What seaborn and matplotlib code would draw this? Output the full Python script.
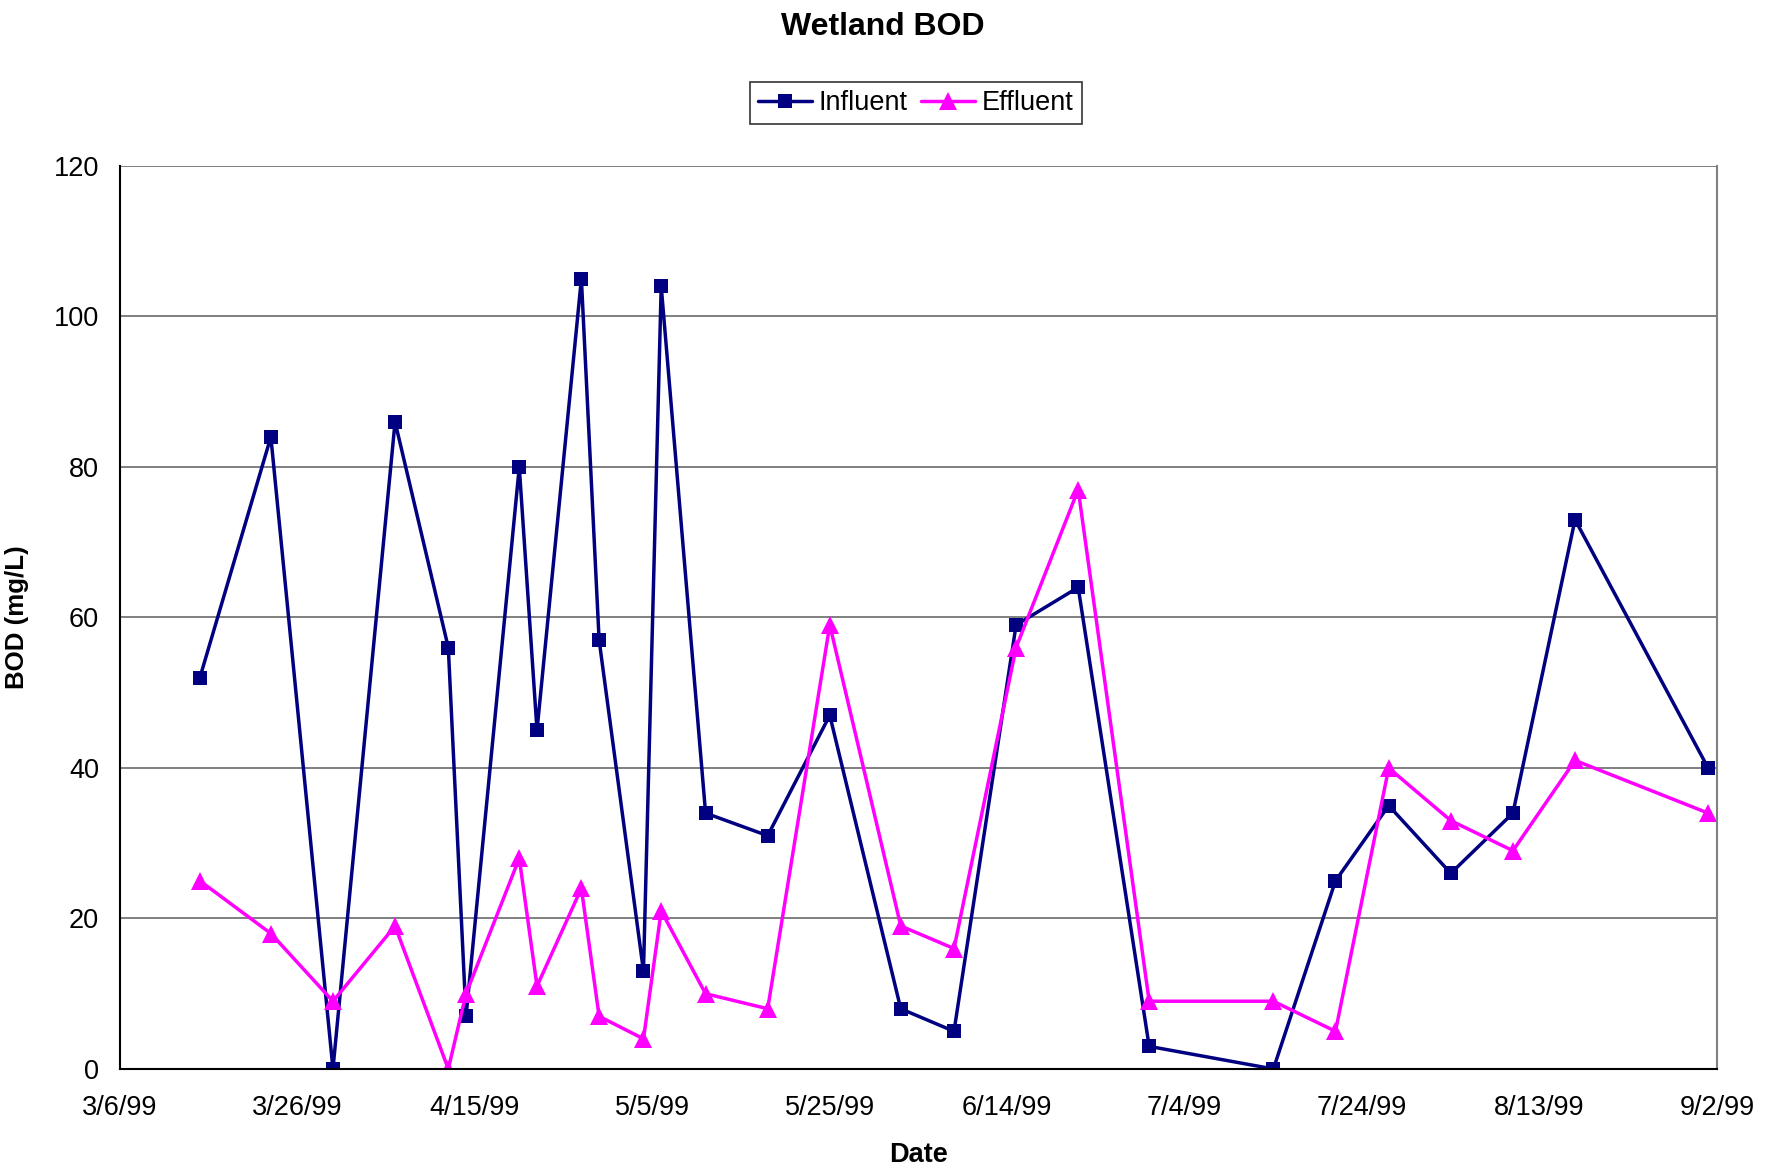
import numpy as np
import matplotlib
matplotlib.use('Agg')
import matplotlib.pyplot as plt
import pandas as pd
import seaborn as sns

# sampling dates (1999)
dates = ['1999-03-15', '1999-03-23', '1999-03-30', '1999-04-06', '1999-04-12', '1999-04-14',
         '1999-04-20', '1999-04-22', '1999-04-27', '1999-04-29', '1999-05-04', '1999-05-06',
         '1999-05-11', '1999-05-18', '1999-05-25', '1999-06-02', '1999-06-08', '1999-06-15',
         '1999-06-22', '1999-06-30', '1999-07-14', '1999-07-21', '1999-07-27', '1999-08-03',
         '1999-08-10', '1999-08-17', '1999-09-01']
influent = [52, 84, 0, 86, 56, 7, 80, 45, 105, 57, 13, 104, 34, 31, 47, 8, 5, 59, 64, 3, 0, 25, 35, 26, 34, 73, 40]
effluent = [25, 18, 9, 19, 0, 10, 28, 11, 24, 7, 4, 21, 10, 8, 59, 19, 16, 56, 77, 9, 9, 5, 40, 33, 29, 41, 34]
series_names = ['Influent', 'Effluent']
colors = ['#000080', '#FF00FF']

df = pd.DataFrame({
    'Date': pd.to_datetime(dates * 2),
    'BOD': influent + effluent,
    'series': [series_names[0]] * len(dates) + [series_names[1]] * len(dates),
})

sns.set_style('white')
plt.rcParams['font.family'] = ['Liberation Sans', 'DejaVu Sans']
plt.rcParams['text.color'] = 'black'
plt.rcParams['axes.labelcolor'] = 'black'

fig = plt.figure(figsize=(17.73, 11.68), dpi=100)
ax = fig.add_axes([0.0677, 0.0848, 0.9007, 0.7731])

ax.set_axisbelow(True)
ax.grid(axis='y', color='#6a6a6a', lw=1.2)

sns.lineplot(data=df, x='Date', y='BOD', hue='series', style='series',
             palette=colors, markers=['s', '^'], dashes=False, lw=2.5,
             markersize=10, markeredgewidth=0, ax=ax, legend=False)
# bigger triangles for effluent
ax.lines[1].set_markersize(13)

ticks = pd.date_range('1999-03-06', '1999-09-02', freq='20D')
ax.set_xticks(ticks)
ax.set_xticklabels([f'{d.month}/{d.day}/{d:%y}' for d in ticks])
ax.set_xlim(ticks[0], ticks[-1])
ax.set_ylim(0, 120)
ax.set_yticks(range(0, 121, 20))

ax.tick_params(axis='both', direction='out', length=7, width=1.2, labelsize=19.5,
               colors='black', labelcolor='black')
ax.tick_params(axis='x', pad=12)
ax.tick_params(axis='y', pad=8)

for side in ['left', 'bottom']:
    ax.spines[side].set_color('black')
    ax.spines[side].set_linewidth(1.5)
ax.spines['right'].set_color('#808080')
ax.spines['right'].set_linewidth(1.5)
ax.spines['top'].set_visible(False)

ax.set_xlabel('Date', fontsize=19.5, fontweight='bold', labelpad=15, color='black')
ax.set_ylabel('BOD (mg/L)', fontsize=18.6, fontweight='bold', labelpad=18, color='black')

fig.suptitle('Wetland BOD', x=0.498, y=0.99, fontsize=23, fontweight='bold', color='black')

handles = [plt.Line2D([], [], color=colors[0], marker='s', lw=2.5, markersize=10, markeredgewidth=0),
           plt.Line2D([], [], color=colors[1], marker='^', lw=2.5, markersize=13, markeredgewidth=0)]
leg = fig.legend(handles, series_names, loc='center', bbox_to_anchor=(0.5165, 0.9115), ncol=2,
                 fontsize=19.5, frameon=True, fancybox=False, handlelength=2.0, handletextpad=0.25,
                 columnspacing=0.5, borderpad=0.3, borderaxespad=0)
leg.get_frame().set_edgecolor('black')
leg.get_frame().set_linewidth(1.2)

fig.savefig('out.png', dpi=100)
